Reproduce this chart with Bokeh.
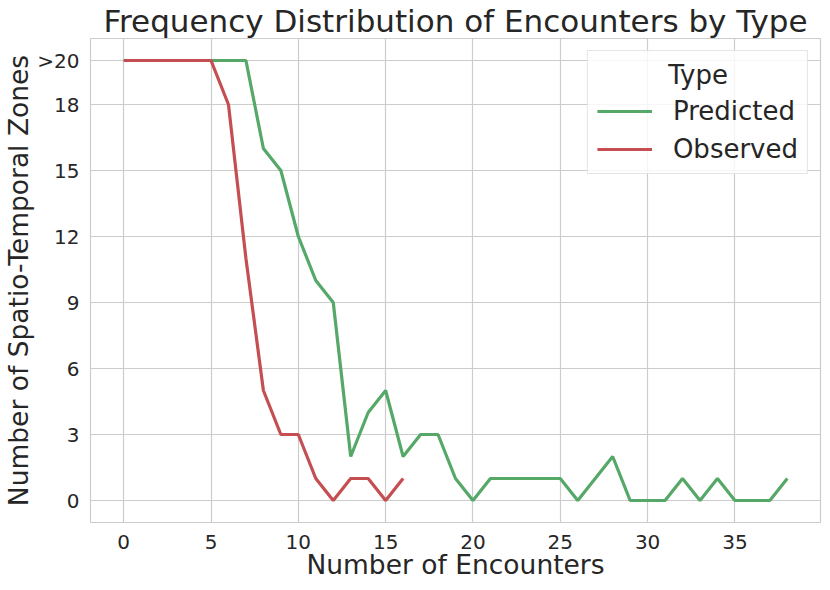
from bokeh.plotting import figure
from bokeh.models import FixedTicker, Legend, LegendItem, Range1d
from bokeh.embed import file_html
from bokeh.resources import INLINE

# Data
encounters_pred = list(range(0, 39))
predicted = [20, 20, 20, 20, 20, 20, 20, 20, 16, 15, 12, 10, 9, 2, 4, 5, 2, 3, 3, 1,
             0, 1, 1, 1, 1, 1, 0, 1, 2, 0, 0, 0, 1, 0, 1, 0, 0, 0, 1]
encounters_obs = list(range(0, 17))
observed = [20, 20, 20, 20, 20, 20, 18, 11, 5, 3, 3, 1, 0, 1, 1, 0, 1]
x_ticks = [0, 5, 10, 15, 20, 25, 30, 35]
y_ticks = [0, 3, 6, 9, 12, 15, 18, 20]
y_tick_labels = {20: ">20"}
title_text = "Frequency Distribution of Encounters by Type"
legend_title = "Type"

FONT = "DejaVu Sans"
GREEN = "#55A868"
RED = "#C44E52"
GRID = "#cccccc"
TXT = "#262626"

p = figure(frame_width=730, frame_height=484, output_backend="svg", toolbar_location=None,
           x_range=Range1d(-1.9, 39.9), y_range=Range1d(-1.0, 21.0),
           title=title_text)
p.min_border_left = 82
p.min_border_right = 2
p.min_border_top = 20
p.min_border_bottom = 60

p.title.text_font = FONT
p.title.text_font_size = "31px"
p.title.text_font_style = "normal"
p.title.text_color = TXT
p.title.align = "center"
p.title.standoff = 0
p.title.offset = 0

p.outline_line_color = GRID
p.outline_line_width = 1.2
p.background_fill_color = "white"
p.border_fill_color = "white"

for ax in (p.xaxis[0], p.yaxis[0]):
    ax.axis_line_color = None
    ax.major_tick_line_color = None
    ax.minor_tick_line_color = None
    ax.major_label_text_font = FONT
    ax.major_label_text_font_size = "20px"
    ax.major_label_text_color = TXT
    ax.axis_label_text_font = FONT
    ax.axis_label_text_font_size = "26.5px"
    ax.axis_label_text_font_style = "normal"
    ax.axis_label_text_color = TXT

p.xaxis[0].ticker = FixedTicker(ticks=x_ticks)
p.yaxis[0].ticker = FixedTicker(ticks=y_ticks)
p.yaxis[0].major_label_overrides = y_tick_labels
p.xaxis[0].axis_label = "Number of Encounters"
p.yaxis[0].axis_label = "Number of Spatio-Temporal Zones"
p.xaxis[0].major_label_standoff = 6
p.xaxis[0].axis_label_standoff = -3
p.yaxis[0].major_label_standoff = 5
p.yaxis[0].axis_label_standoff = 0

p.xgrid.grid_line_color = GRID
p.ygrid.grid_line_color = GRID
p.xgrid.grid_line_width = 1.2
p.ygrid.grid_line_width = 1.2

r_pred = p.line(encounters_pred, predicted, line_color=GREEN, line_width=3.2)
r_obs = p.line(encounters_obs, observed, line_color=RED, line_width=3.2)

legend = Legend(items=[LegendItem(label="Predicted", renderers=[r_pred]),
                       LegendItem(label="Observed", renderers=[r_obs])],
                location="top_right")
# non-breaking spaces push the legend title towards the centre of the box
legend.title = "\u00a0" * 8 + "\u2009" + legend_title
legend.title_text_font = FONT
legend.title_text_font_size = "26px"
legend.title_text_font_style = "normal"
legend.title_text_color = TXT
legend.title_standoff = 6
legend.label_text_font = FONT
legend.label_text_font_size = "26px"
legend.label_text_color = TXT
legend.glyph_width = 55
legend.label_standoff = 21
legend.spacing = 8
legend.padding = 9
legend.margin = 12
legend.border_line_color = GRID
legend.border_line_width = 1.2
legend.background_fill_alpha = 0.8
p.add_layout(legend)

open("out.html", "w").write(file_html(p, INLINE))
